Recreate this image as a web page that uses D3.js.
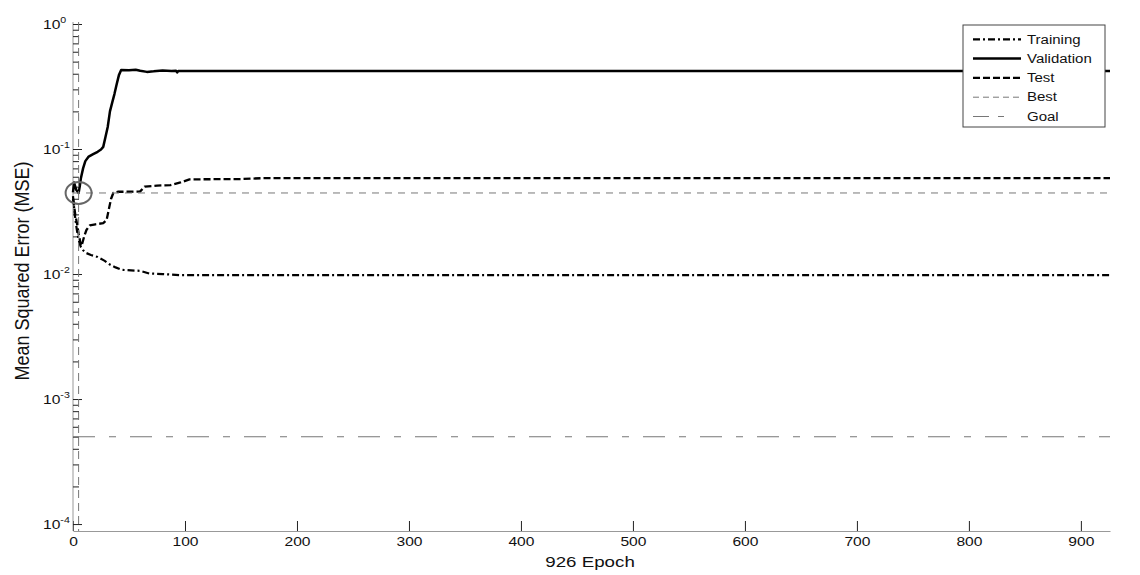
<!DOCTYPE html>
<html>
<head>
<meta charset="utf-8">
<script src="https://cdn.jsdelivr.net/npm/d3@7"></script>
<style>
  body { margin: 0; background: #fff; }
  svg { display: block; font-family: "Liberation Sans", Arial, sans-serif; }
</style>
</head>
<body>
<script>
// performance curves (MSE per epoch)
const trainEpochs = [0, 1, 2, 3, 4, 5, 6, 7, 9, 12, 16, 22, 28, 33, 38, 44, 60, 68, 80, 95, 926];
const trainMSE = [0.042, 0.034, 0.028, 0.024, 0.021, 0.019, 0.0175, 0.0165, 0.0155, 0.0147, 0.0142, 0.0137,
  0.0128, 0.0119, 0.0113, 0.0108, 0.0106, 0.0101, 0.0100, 0.0098, 0.0098];

const valEpochs = [0, 1, 2, 3, 5, 6, 7, 9, 11, 14, 18, 22, 25, 27, 29, 31, 33, 35, 37, 39, 41, 43,
  50, 56, 60, 66, 72, 80, 88, 92, 93, 94, 926];
const valMSE = [0.045, 0.054, 0.05, 0.047, 0.0445, 0.05, 0.058, 0.07, 0.08, 0.087, 0.091, 0.095, 0.099, 0.104,
  0.125, 0.15, 0.2, 0.235, 0.275, 0.33, 0.39, 0.428, 0.426, 0.43, 0.422, 0.414, 0.418, 0.425, 0.42, 0.423,
  0.41, 0.421, 0.421];

const testEpochs = [0, 1, 2, 3, 4, 5, 6, 7, 8, 10, 12, 15, 20, 27, 30, 32, 34, 36, 40, 50, 60, 64, 75, 87,
  96, 104, 150, 170, 926];
const testMSE = [0.04, 0.035, 0.03, 0.027, 0.024, 0.021, 0.019, 0.0168, 0.0172, 0.02, 0.0225, 0.0245, 0.025,
  0.0255, 0.027, 0.033, 0.04, 0.0445, 0.0455, 0.0455, 0.0458, 0.05, 0.051, 0.0515, 0.054, 0.0572, 0.0575,
  0.0585, 0.0585];

const bestEpoch = 5;
const bestMSE = 0.0445;
const goalMSE = 5e-4;
const maxEpoch = 926;

const xTicks = [0, 100, 200, 300, 400, 500, 600, 700, 800, 900];
const yExponents = [-4, -3, -2, -1, 0];
const legendLabels = ["Training", "Validation", "Test", "Best", "Goal"];

const width = 1140;
const height = 575;
const sx = 1.25; // the picture's text is stretched sideways

const svg = d3.select("body").append("svg")
  .attr("width", width)
  .attr("height", height);

const x = d3.scaleLinear().domain([0, maxEpoch]).range([73, 1110]);
const y = d3.scaleLog().domain([8.8e-5, 1]).range([531, 24]);

// x axis, ticks pointing inward
const xAxis = svg.append("g")
  .attr("transform", `translate(0,${y.range()[0]})`)
  .call(d3.axisBottom(x).tickValues(xTicks).tickSize(-10).tickSizeOuter(0).tickPadding(6).tickFormat(d3.format("d")));
xAxis.select(".domain").attr("stroke", "#999");
xAxis.selectAll(".tick line").attr("stroke", "#222");
xAxis.selectAll(".tick text")
  .attr("font-size", 12.5)
  .attr("fill", "#111")
  .attr("font-family", "Liberation Sans, Arial, sans-serif")
  .attr("transform", `scale(${sx},1)`);

// y axis, log, major + minor ticks
const yMajor = yExponents.map(e => Math.pow(10, e));
const yMinor = [];
yExponents.slice(0, -1).forEach(e => {
  for (let k = 2; k <= 9; k++) yMinor.push(k * Math.pow(10, e));
});

const yAxis = svg.append("g")
  .attr("transform", `translate(${x(0)},0)`)
  .call(d3.axisLeft(y).tickValues(yMajor).tickSize(-9).tickSizeOuter(0).tickFormat(""));
yAxis.select(".domain").attr("stroke", "#999").attr("d", `M0,${y.range()[0]}V22`);
yAxis.selectAll(".tick line").attr("stroke", "#222");

const yAxisMinor = svg.append("g")
  .attr("transform", `translate(${x(0)},0)`)
  .call(d3.axisLeft(y).tickValues(yMinor).tickSize(-6).tickFormat(""));
yAxisMinor.select(".domain").remove();
yAxisMinor.selectAll(".tick line").attr("stroke", "#222");

// y tick labels: 10 with exponent
const yLab = svg.append("g").selectAll("g")
  .data(yExponents)
  .join("g")
  .attr("transform", e => `translate(43,${y(Math.pow(10, e)) + 4.5}) scale(${sx},1)`);
const yTxt = yLab.append("text").attr("fill", "#111");
yTxt.append("tspan").attr("font-size", 12.5).text("10");
yTxt.append("tspan").attr("font-size", 8.5).attr("dy", -6).text(e => e);

// axis titles
svg.append("text")
  .attr("transform", `translate(590,567) scale(${sx},1)`)
  .attr("text-anchor", "middle")
  .attr("font-size", 15)
  .attr("fill", "#111")
  .text(`${maxEpoch} Epoch`);

svg.append("text")
  .attr("transform", `translate(29,271) scale(1.15,1) rotate(-90)`)
  .attr("text-anchor", "middle")
  .attr("font-size", 18)
  .attr("fill", "#111")
  .text("Mean Squared Error (MSE)");

// series styles
const styles = [
  { stroke: "#000", width: 2.2, dash: "7,3,2,3" },
  { stroke: "#000", width: 2.5, dash: null },
  { stroke: "#000", width: 2.3, dash: "7,3" },
  { stroke: "#777", width: 1, dash: "7,6" },
  { stroke: "#777", width: 1.1, dash: "22,14,7,14" }
];

const line = d3.line().x(d => x(d[0])).y(d => y(d[1]));
const series = [
  d3.zip(trainEpochs, trainMSE),
  d3.zip(valEpochs, valMSE),
  d3.zip(testEpochs, testMSE)
];

svg.append("g").selectAll("path")
  .data(series)
  .join("path")
  .attr("d", line)
  .attr("fill", "none")
  .attr("stroke", (d, i) => styles[i].stroke)
  .attr("stroke-width", (d, i) => styles[i].width)
  .attr("stroke-dasharray", (d, i) => styles[i].dash)
  .attr("stroke-linejoin", "round");

// best: horizontal + vertical
svg.append("line")
  .attr("x1", x(0)).attr("x2", x(maxEpoch))
  .attr("y1", y(bestMSE)).attr("y2", y(bestMSE))
  .attr("stroke", styles[3].stroke).attr("stroke-width", 1)
  .attr("stroke-dasharray", styles[3].dash);
svg.append("line")
  .attr("x1", x(bestEpoch)).attr("x2", x(bestEpoch))
  .attr("y1", 22).attr("y2", y.range()[0])
  .attr("stroke", styles[3].stroke).attr("stroke-width", 1)
  .attr("stroke-dasharray", "8,5");

// goal
svg.append("line")
  .attr("x1", x(0)).attr("x2", x(maxEpoch))
  .attr("y1", y(goalMSE)).attr("y2", y(goalMSE))
  .attr("stroke", styles[4].stroke).attr("stroke-width", styles[4].width)
  .attr("stroke-dasharray", styles[4].dash);

// best point marker
svg.append("ellipse")
  .attr("cx", x(bestEpoch)).attr("cy", y(bestMSE))
  .attr("rx", 13).attr("ry", 11)
  .attr("fill", "none")
  .attr("stroke", "#666")
  .attr("stroke-width", 2);

// legend
const legend = svg.append("g");
legend.append("rect")
  .attr("x", 963).attr("y", 25)
  .attr("width", 142).attr("height", 102)
  .attr("fill", "#fff")
  .attr("stroke", "#444")
  .attr("stroke-width", 1);

const rows = legend.selectAll("g.row")
  .data(legendLabels)
  .join("g")
  .attr("class", "row")
  .attr("transform", (d, i) => `translate(0,${39.3 + i * 19.3})`);

rows.append("line")
  .attr("x1", 973).attr("x2", 1021)
  .attr("stroke", (d, i) => styles[i].stroke)
  .attr("stroke-width", (d, i) => styles[i].width)
  .attr("stroke-dasharray", (d, i) => i === 4 ? "16,9,6,20" : i === 3 ? "6,4" : styles[i].dash);

rows.append("text")
  .attr("transform", `translate(1027,0) scale(${sx},1)`)
  .attr("dy", "0.35em")
  .attr("font-size", 12)
  .attr("fill", "#111")
  .text(d => d);
</script>
</body>
</html>
